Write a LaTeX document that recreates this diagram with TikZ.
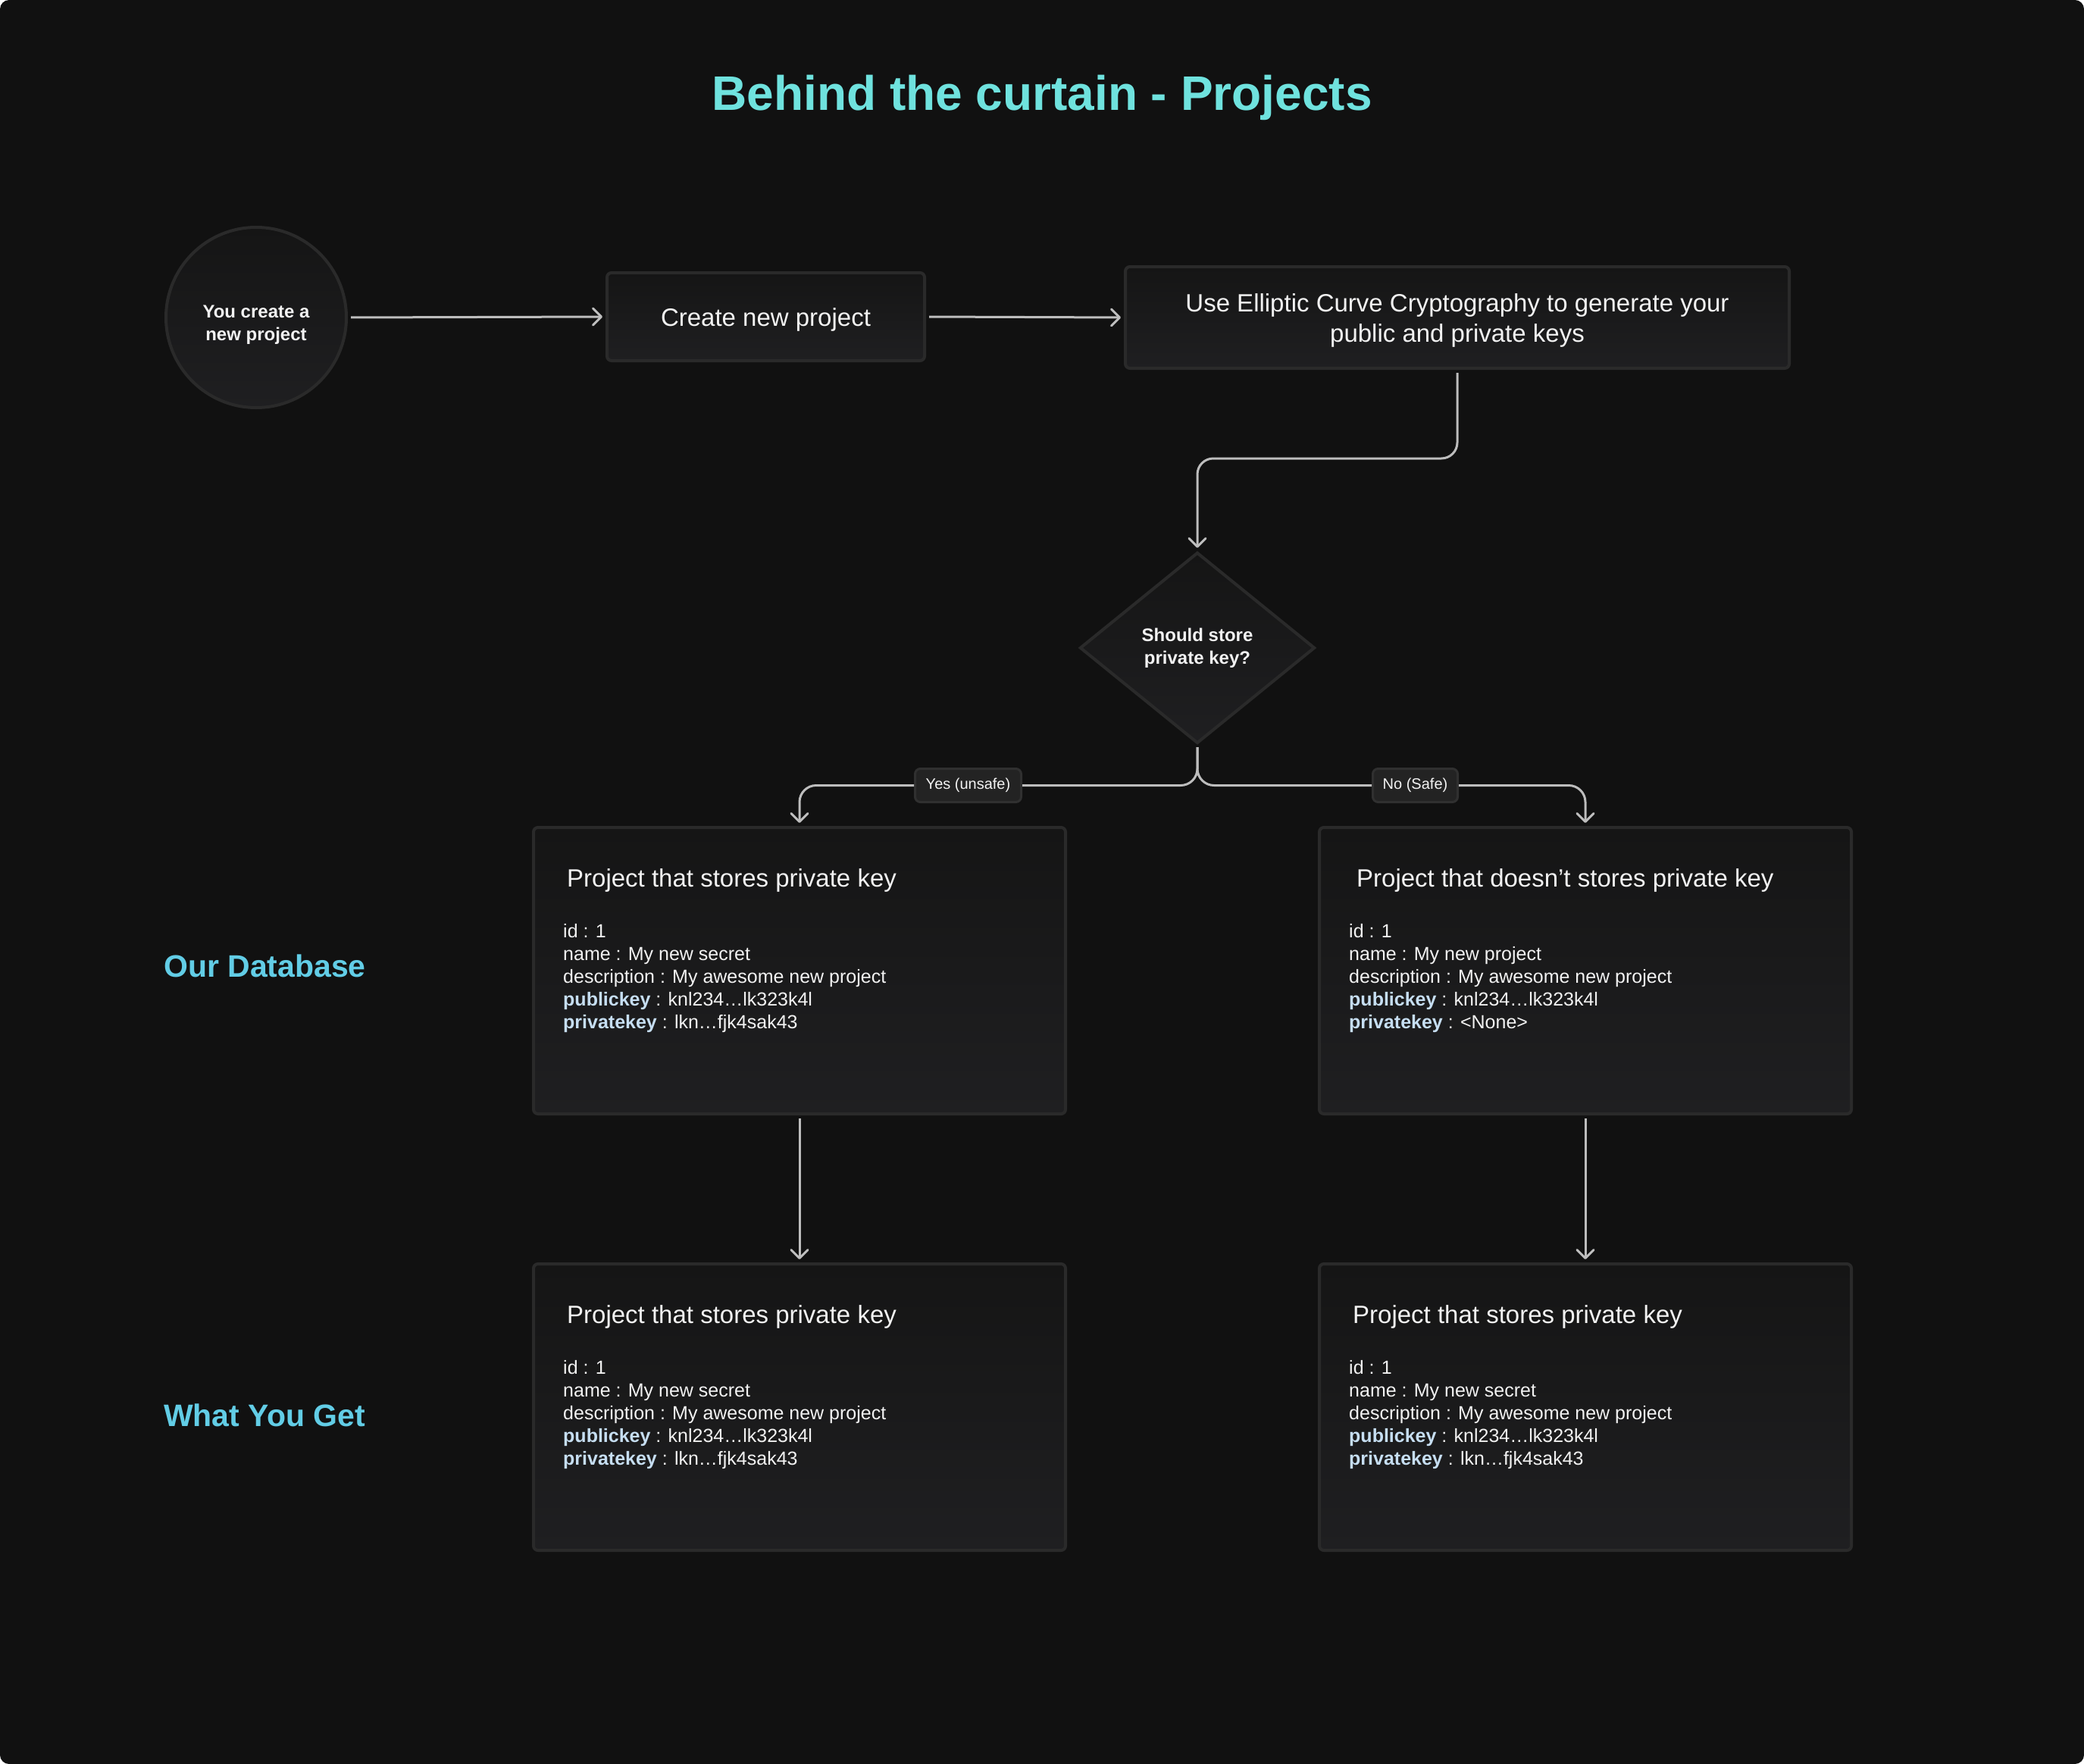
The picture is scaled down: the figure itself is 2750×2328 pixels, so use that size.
\documentclass[tikz,border=0pt]{standalone}
\usepackage{fontspec}
\setmainfont{Liberation Sans}
\usetikzlibrary{shapes.geometric,arrows.meta,calc}
\definecolor{bg}{HTML}{111111}
\definecolor{cardline}{HTML}{2A2A2A}
\definecolor{cardtop}{HTML}{151515}
\definecolor{cardbot}{HTML}{1F1F21}
\definecolor{connc}{HTML}{BDBDBD}
\definecolor{titlec}{HTML}{6FE2DE}
\definecolor{sidec}{HTML}{62CDE6}
\definecolor{keyc}{HTML}{C6DEF2}
\definecolor{txt}{HTML}{F2F2F2}
\definecolor{lblfill}{HTML}{232323}
\definecolor{lblline}{HTML}{303030}
\tikzset{
  card/.style={draw=cardline, line width=4pt, top color=cardtop, bottom color=cardbot, inner sep=0pt, text=txt},
  rcard/.style={card, rounded corners=6pt},
  conn/.style={draw=connc, line width=3pt},
  arr/.style={conn, -{Straight Barb[length=11pt,width=22pt,round]}, shorten >=4pt, shorten <=4pt},
  lbl/.style={draw=lblline, line width=3pt, fill=lblfill, rounded corners=7pt, inner sep=0pt, minimum height=44pt, text=txt, font=\fontsize{20}{24}\selectfont},
  ctitle/.style={anchor=base west, inner sep=0pt, text=txt, font=\fontsize{33}{40}\selectfont},
  rowtxt/.style={anchor=base west, inner sep=0pt, text=txt, font=\fontsize{25}{30}\selectfont},
  side/.style={anchor=base west, inner sep=0pt, text=sidec, font=\fontsize{41}{48}\selectfont\bfseries}
}
\newcommand\cardrows[3]{%
  \node[rowtxt] (#1-id) at ($(#1.north west)+(41,147)$) {id : 1};
  \node[rowtxt] (#1-name) at ($(#1.north west)+(41,177)$) {name : #2};
  \node[rowtxt] (#1-desc) at ($(#1.north west)+(41,207)$) {description : My awesome new project};
  \node[rowtxt] (#1-pub) at ($(#1.north west)+(41,237)$) {\textcolor{keyc}{\bfseries publickey} : knl234…lk323k4l};
  \node[rowtxt] (#1-priv) at ($(#1.north west)+(41,267)$) {\textcolor{keyc}{\bfseries privatekey} : #3};
}
\begin{document}
\begin{tikzpicture}[x=1pt,y=-1pt]
\fill[white] (0,0) rectangle (2750,2328);
\fill[bg, rounded corners=12pt] (0,0) rectangle (2750,2328);
\useasboundingbox (0,0) rectangle (2750,2328);

\node[anchor=base, inner sep=0pt, text=titlec, font=\fontsize{64}{72}\selectfont\bfseries] (title) at (1375,146) {Behind the curtain - Projects};

% top row
\node[card, circle, minimum size=238pt] (start) at (338,419) {};
\node[align=center, inner sep=0pt, text=txt, font=\fontsize{24}{30}\selectfont\bfseries] (starttxt) at (338,429) {You create a\\new project};
\node[rcard, minimum width=419pt, minimum height=116pt, font=\fontsize{33}{40}\selectfont] (create) at (1010.5,418) {};
\node[inner sep=0pt, text=txt, font=\fontsize{33}{40}\selectfont] (createtxt) at (1010.5,422) {Create new project};
\node[rcard, minimum width=876pt, minimum height=134pt] (ecc) at (1923,419) {};
\node[align=center, inner sep=0pt, text=txt, font=\fontsize{33}{40}\selectfont] (ecctxt) at (1923,423) {Use Elliptic Curve Cryptography to generate your\\public and private keys};

% decision
\node[card, diamond, minimum width=310pt, minimum height=252pt, align=center, font=\fontsize{24}{30}\selectfont\bfseries] (dia) at (1580,855) {Should store\\private key?};

% cards
\node[rcard, minimum width=702pt, minimum height=378pt] (dbL) at (1055,1281) {};
\node[rcard, minimum width=702pt, minimum height=378pt] (dbR) at (2092,1281) {};
\node[rcard, minimum width=702pt, minimum height=378pt] (getL) at (1055,1857) {};
\node[rcard, minimum width=702pt, minimum height=378pt] (getR) at (2092,1857) {};

\node[ctitle] (dbL-t) at ($(dbL.north west)+(46,80)$) {Project that stores private key};
\cardrows{dbL}{My new secret}{lkn…fjk4sak43}
\node[ctitle] (dbR-t) at ($(dbR.north west)+(51,80)$) {Project that doesn’t stores private key};
\cardrows{dbR}{My new project}{<None>}
\node[ctitle] (getL-t) at ($(getL.north west)+(46,80)$) {Project that stores private key};
\cardrows{getL}{My new secret}{lkn…fjk4sak43}
\node[ctitle] (getR-t) at ($(getR.north west)+(46,80)$) {Project that stores private key};
\cardrows{getR}{My new secret}{lkn…fjk4sak43}

% side labels
\node[side] (ourdb) at (216,1289) {Our Database};
\node[side] (whatget) at (216,1882) {What You Get};

% branch labels
\node[lbl, minimum width=140pt] (yes) at (1277.5,1036.5) {Yes (unsafe)};
\node[lbl, minimum width=112pt] (no) at (1867.5,1036.5) {No (Safe)};

% connectors
\draw[arr] (start.east) -- (create.west);
\draw[arr] (create.east) -- (ecc.west);
\draw[arr, rounded corners=21pt] (ecc.south) -- ++(0,117) -| (dia.north);
\draw[conn, rounded corners=22pt, shorten <=3pt] (dia.south) |- (yes.east);
\draw[arr, rounded corners=22pt, shorten <=0pt] (yes.west) -| (dbL.north);
\draw[conn, rounded corners=22pt, shorten <=3pt] (dia.south) |- (no.west);
\draw[arr, rounded corners=22pt, shorten <=0pt] (no.east) -| (dbR.north);
\draw[arr] (dbL.south) -- (getL.north);
\draw[arr] (dbR.south) -- (getR.north);
\end{tikzpicture}
\end{document}
